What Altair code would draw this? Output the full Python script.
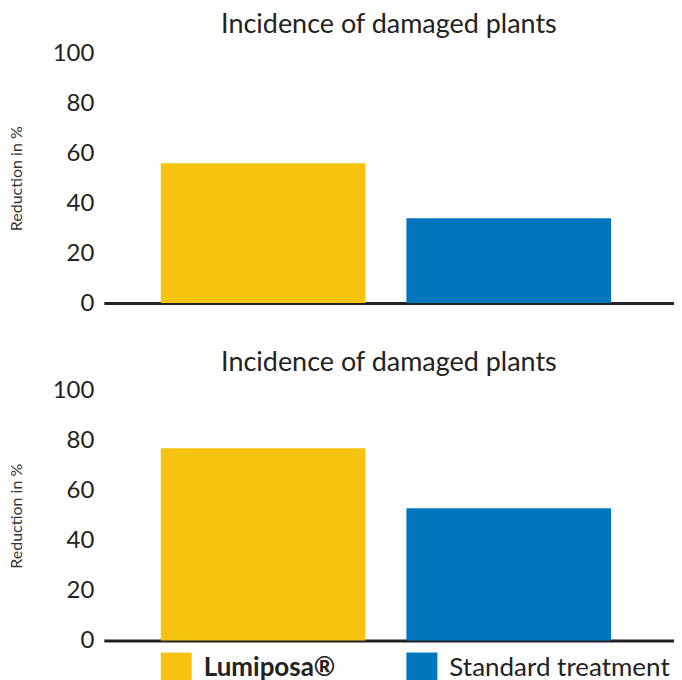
import altair as alt
import pandas as pd

categories = ["Lumiposa®", "Standard treatment"]
colors = ["#F6C40E", "#0076BE"]
top_values = [56, 34]
bottom_values = [77, 53]
panel_title = "Incidence of damaged plants"
y_title = "Reduction in %"
y_ticks = [0, 20, 40, 60, 80, 100]
label_weights = ["bold", "normal"]

FONT = "Lato"
TEXT = "#222222"

xscale = alt.Scale(type="band", domain=categories, paddingInner=0.1667,
                   paddingOuter=0.244, align=0.475)
cscale = alt.Scale(domain=categories, range=colors)


def panel(values):
    df = pd.DataFrame({"category": categories, "value": values})
    return alt.Chart(df, title=alt.TitleParams(
        panel_title, fontSize=27, fontWeight="normal", color=TEXT, font=FONT,
        anchor="middle", frame="group", offset=2)).mark_bar().encode(
        x=alt.X("category:N", sort=categories, scale=xscale,
                axis=alt.Axis(labels=False, ticks=False, title=None,
                              domainColor=TEXT, domainWidth=3)),
        y=alt.Y("value:Q", scale=alt.Scale(domain=[0, 100], nice=False),
                axis=alt.Axis(values=y_ticks, title=y_title, grid=False, domain=False,
                              ticks=False, tickSize=0, labelPadding=10,
                              labelFontSize=24, labelColor=TEXT, labelFont=FONT,
                              titleFontSize=16, titleFontWeight="normal",
                              titleColor="#333333", titleFont=FONT, titlePadding=28)),
        color=alt.Color("category:N", scale=cscale, legend=None),
    ).properties(width=571, height=250)


legend_df = pd.DataFrame({"category": categories, "weight": label_weights})
lx = alt.X("category:N", sort=categories, scale=xscale, bandPosition=0, axis=None)
squares = alt.Chart(legend_df).mark_square(size=961, xOffset=15.5, opacity=1).encode(
    x=lx, color=alt.Color("category:N", scale=cscale, legend=None))
bold_text = alt.Chart(legend_df).transform_filter("datum.weight == 'bold'").mark_text(
    align="left", baseline="middle", dx=43, fontSize=26, font=FONT, fontWeight="bold",
    color=TEXT).encode(x=lx, text="category:N")
norm_text = alt.Chart(legend_df).transform_filter("datum.weight == 'normal'").mark_text(
    align="left", baseline="middle", dx=43, fontSize=26, font=FONT, fontWeight="normal",
    color=TEXT).encode(x=lx, text="category:N")
legend = alt.layer(squares, bold_text, norm_text).properties(width=571, height=31)

chart = alt.vconcat(panel(top_values), panel(bottom_values), spacing=34).resolve_scale(
    color="shared")
chart = alt.vconcat(chart, legend, spacing=-8).properties(
    padding={"left": 0, "top": 3, "right": 0, "bottom": 0}
).configure(font=FONT).configure_view(strokeWidth=0, stroke="transparent")

chart.save("out.html", embed_options={"renderer": "svg", "actions": False})
